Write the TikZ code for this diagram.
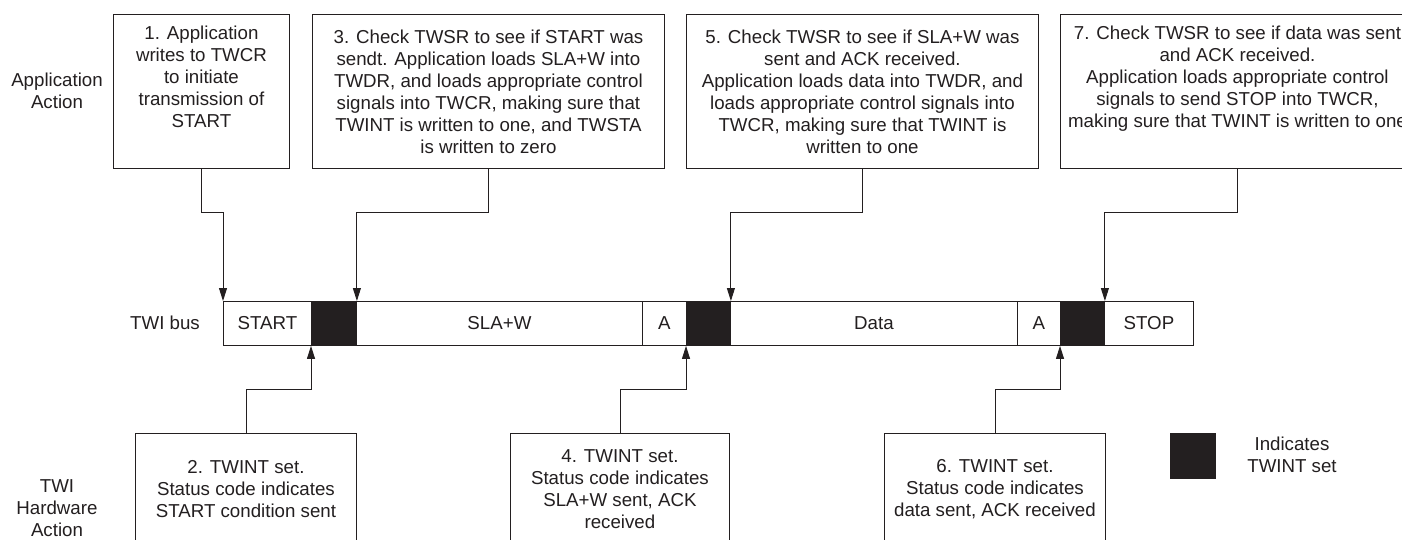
\documentclass[tikz,border=0pt]{standalone}
\usepackage{fontspec}
\setmainfont{Liberation Sans}
\usetikzlibrary{arrows.meta}
\definecolor{ink}{HTML}{231F20}
\begin{document}
\begin{tikzpicture}[x=1pt,y=-1pt,
  font=\fontsize{18.7}{22}\selectfont,
  box/.style={draw=ink, line width=0.9pt, inner sep=0pt, align=center, text=ink, anchor=north west},
  cell/.style={draw=ink, line width=0.9pt, inner sep=0pt, minimum height=44pt, text=ink, anchor=north west},
  blk/.style={cell, fill=ink},
  conn/.style={draw=ink, line width=0.9pt, -{Triangle[length=13pt,width=8pt]}},
  lbl/.style={align=center, text=ink, inner sep=0pt}]
\useasboundingbox (0,0) rectangle (1402,540);
\fill[white] (0,0) rectangle (1402,540);
\clip (0,0) rectangle (1402,540);

% side labels
\node[lbl] (la) at (57,91) {Application\\Action};
\node[lbl] (lb) at (165,323) {TWI bus};
\node[lbl] (lh) at (57,508) {TWI\\Hardware\\Action};

% bus cells
\node[cell, minimum width=88pt] (cstart) at (223,301) {START};
\node[blk, minimum width=45pt] (k1) at (311,301) {};
\node[cell, minimum width=286pt] (csla) at (356,301) {SLA+W};
\node[cell, minimum width=44pt] (ca1) at (642,301) {A};
\node[blk, minimum width=44pt] (k2) at (686,301) {};
\node[cell, minimum width=287pt] (cdata) at (730,301) {Data};
\node[cell, minimum width=43pt] (ca2) at (1017,301) {A};
\node[blk, minimum width=44pt] (k3) at (1060,301) {};
\node[cell, minimum width=89pt] (cstop) at (1104,301) {STOP};

% application boxes
\node[box, minimum width=176pt, minimum height=154pt] (b1) at (113,14)
  {1. Application\\writes to TWCR\\to initiate\\transmission of\\START\\\strut};
\node[box, minimum width=352pt, minimum height=154pt] (b3) at (312,14)
  {3. Check TWSR to see if START was\\sendt. Application loads SLA+W into\\TWDR, and loads appropriate control\\signals into TWCR, making sure that\\TWINT is written to one, and TWSTA\\is written to zero};
\node[box, minimum width=352pt, minimum height=154pt] (b5) at (686,14)
  {5. Check TWSR to see if SLA+W was\\sent and ACK received.\\Application loads data into TWDR, and\\loads appropriate control signals into\\TWCR, making sure that TWINT is\\written to one};
\node[box, minimum width=354pt, minimum height=154pt] (b7) at (1060,14)
  {7. Check TWSR to see if data was sent\\and ACK received.\\Application loads appropriate control\\signals to send STOP into TWCR,\\making sure that TWINT is written to one\\\strut};

% hardware boxes
\node[box, minimum width=221pt, minimum height=112pt] (b2) at (135,433)
  {2. TWINT set.\\Status code indicates\\START condition sent};
\node[box, minimum width=219pt, minimum height=112pt] (b4) at (510,433)
  {4. TWINT set.\\Status code indicates\\SLA+W sent, ACK\\received};
\node[box, minimum width=221pt, minimum height=112pt] (b6) at (884,433)
  {6. TWINT set.\\Status code indicates\\data sent, ACK received};

% legend
\node[blk, minimum width=45pt, minimum height=45pt] (leg) at (1170,433) {};
\node[lbl] (legt) at (1292,455) {Indicates\\TWINT set};

% connectors
\coordinate (hT) at (0,212);
\coordinate (hB) at (0,389);
\draw[conn] (b1.south) -- (b1.south |- hT) -| (cstart.north west);
\draw[conn] (b3.south) -- (b3.south |- hT) -| (k1.north east);
\draw[conn] (b5.south) -- (b5.south |- hT) -| (k2.north east);
\draw[conn] (b7.south) -- (b7.south |- hT) -| (k3.north east);
\draw[conn] (b2.north) -- (b2.north |- hB) -| (k1.south west);
\draw[conn] (b4.north) -- (b4.north |- hB) -| (k2.south west);
\draw[conn] (b6.north) -- (b6.north |- hB) -| (k3.south west);
\end{tikzpicture}
\end{document}
